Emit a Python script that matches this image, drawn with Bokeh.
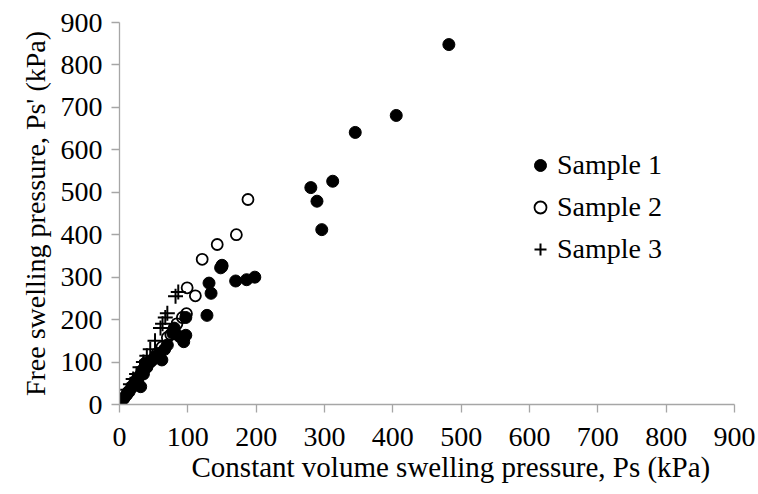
from bokeh.plotting import figure
from bokeh.models import Range1d, FixedTicker, Title
from bokeh.embed import file_html
from bokeh.resources import INLINE

# Sample 1 (filled circles)
s1_x = [482, 405, 345, 312, 280, 289, 296, 150, 148, 198, 186, 170, 131, 134, 128,
        97, 97, 94, 88, 80, 78, 66, 62, 52, 45, 38, 33, 28, 26, 31, 22, 18, 14, 10, 6,
        58, 70, 40, 35]
s1_y = [848, 681, 641, 526, 511, 479, 412, 328, 322, 300, 294, 291, 286, 262, 210,
        205, 163, 148, 160, 180, 168, 130, 105, 112, 100, 98, 80, 65, 56, 42, 50, 40, 30, 22, 14,
        120, 140, 88, 72]

# Sample 2 (open circles)
s2_x = [188, 171, 143, 121, 99, 111, 150, 98, 92, 84, 70, 80, 62, 55, 48, 40, 32, 25, 18, 12, 6, 75]
s2_y = [483, 400, 377, 342, 275, 256, 325, 214, 205, 190, 158, 175, 135, 120, 105, 90, 72, 58, 42, 28, 15, 165]

# Sample 3 (plus)
s3_x = [86, 82, 70, 67, 63, 60, 52, 45, 40, 35, 30, 25, 20, 16, 12, 8, 5, 2]
s3_y = [265, 255, 215, 205, 190, 180, 150, 130, 115, 100, 88, 72, 60, 48, 35, 24, 15, 8]

ticks = [0, 100, 200, 300, 400, 500, 600, 700, 800, 900]

x_title = "Constant volume swelling pressure, Ps (kPa)"
y_title = "Free swelling pressure, Ps' (kPa)"

FONT = "Liberation Serif"
GRAY = "#A6A6A6"

p = figure(width=758, height=494, output_backend="svg", toolbar_location=None,
           x_range=Range1d(0, 900), y_range=Range1d(0, 900),
           min_border_left=119, min_border_right=24, min_border_top=22, min_border_bottom=90)
p.outline_line_color = None
p.xgrid.visible = False
p.ygrid.visible = False
p.background_fill_color = "white"
p.border_fill_color = "white"

r1 = p.scatter(s1_x, s1_y, marker="circle", size=12, fill_color="black", line_color="black",
               legend_label="Sample 1")
r2 = p.scatter(s2_x, s2_y, marker="circle", size=11, fill_alpha=0, line_color="black",
               line_width=1.8, legend_label="Sample 2")
r3 = p.scatter(s3_x, s3_y, marker="cross", size=15, line_color="black", line_width=2,
               legend_label="Sample 3")

for ax in (p.xaxis[0], p.yaxis[0]):
    ax.ticker = FixedTicker(ticks=ticks)
    ax.axis_line_color = GRAY
    ax.axis_line_width = 1.3
    ax.major_tick_line_color = GRAY
    ax.major_tick_line_width = 1.3
    ax.major_tick_out = 8
    ax.major_tick_in = 0
    ax.minor_tick_line_color = None
    ax.major_label_text_font = FONT
    ax.major_label_text_font_size = "28px"
    ax.major_label_text_color = "black"
    ax.axis_label_text_font = FONT
    ax.axis_label_text_font_style = "normal"
    ax.axis_label_text_color = "black"

p.yaxis.axis_label_text_font_size = "28px"
p.yaxis.axis_label = y_title
p.xaxis.major_label_standoff = 15
p.yaxis.major_label_standoff = 9
p.yaxis.axis_label_standoff = 7

xt = Title(text=x_title, align="left", offset=72, standoff=0,
           text_font=FONT, text_font_size="29px", text_font_style="normal",
           text_color="black")
p.add_layout(xt, "below")

lg = p.legend[0]
lg.location = (406, 139)
lg.border_line_alpha = 0
lg.background_fill_alpha = 0
lg.padding = 0
lg.margin = 0
lg.spacing = 10
lg.glyph_width = 30
lg.glyph_height = 30
lg.label_standoff = 2
lg.label_text_font = FONT
lg.label_text_font_size = "28px"
lg.label_text_color = "black"

open("out.html", "w").write(file_html(p, INLINE))
